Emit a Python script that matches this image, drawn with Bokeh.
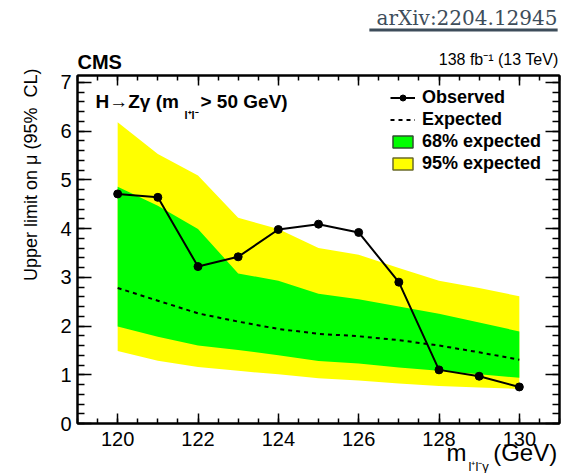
import math
from bokeh.plotting import figure
from bokeh.models import (Range1d, FixedTicker, LinearAxis, Label, Legend, LegendItem,
                          ColumnDataSource)
from bokeh.embed import file_html
from bokeh.resources import INLINE

# ---------------- data ----------------
mass = [120, 121, 122, 123, 124, 125, 126, 127, 128, 129, 130]
observed = [4.71, 4.64, 3.22, 3.42, 3.98, 4.09, 3.92, 2.90, 1.10, 0.97, 0.75]
expected = [2.78, 2.52, 2.26, 2.09, 1.94, 1.84, 1.79, 1.71, 1.60, 1.46, 1.31]
exp68_lo = [1.99, 1.78, 1.60, 1.51, 1.40, 1.28, 1.23, 1.15, 1.08, 1.01, 0.94]
exp68_hi = [4.86, 4.47, 3.99, 3.08, 2.93, 2.66, 2.55, 2.40, 2.25, 2.07, 1.89]
exp95_lo = [1.49, 1.29, 1.16, 1.08, 1.01, 0.93, 0.88, 0.82, 0.77, 0.74, 0.71]
exp95_hi = [6.18, 5.53, 5.09, 4.22, 3.99, 3.60, 3.46, 3.19, 2.93, 2.78, 2.61]

x_major = [120, 122, 124, 126, 128, 130]
y_major = [0, 1, 2, 3, 4, 5, 6, 7]

# ---------------- layout constants ----------------
W, H = 563, 473
FL, FR, FT, FB = 77, 559, 75, 423          # frame edges in pixels
XMIN, XMAX, YMIN, YMAX = 119.0, 131.0, 0.0, 7.14
NB = "\u00a0"

FONT = "Liberation Sans"

p = figure(width=W, height=H, output_backend="svg", toolbar_location=None,
           x_range=Range1d(XMIN, XMAX), y_range=Range1d(YMIN, YMAX),
           min_border_left=FL, min_border_right=W - FR, min_border_top=FT,
           min_border_bottom=H - FB)
p.grid.visible = False
p.outline_line_color = "black"
p.outline_line_width = 2
p.background_fill_color = "white"
p.border_fill_color = "white"

x_minor = [119 + 0.5 * i for i in range(25)]
y_minor = [round(0.2 * i, 2) for i in range(36)]


def style_axis(ax, maj_in, min_in, ticks, labels=True):
    ax.axis_line_color = "black"
    ax.axis_line_width = 2
    ax.major_tick_in = maj_in
    ax.major_tick_out = 0
    ax.minor_tick_in = min_in
    ax.minor_tick_out = 0
    ax.major_tick_line_color = "black"
    ax.major_tick_line_width = 1.5
    ax.minor_tick_line_color = "black"
    ax.minor_tick_line_width = 1.5
    if labels:
        ax.major_label_text_font = FONT
        ax.major_label_text_font_size = "20px"
        ax.major_label_text_color = "black"
    else:
        ax.major_label_overrides = {t: "" for t in ticks}
        ax.major_label_standoff = 0


xb = p.xaxis[0]
xb.ticker = FixedTicker(ticks=x_major, minor_ticks=x_minor)
style_axis(xb, 10, 5, x_major)
xb.major_label_standoff = 8

# x-axis title: "m" + gap (subscript drawn separately) + "(GeV)", pushed to the right end
x_title = "m" + NB * 4 + "(GeV)"
xb.axis_label = NB * 55 + x_title
xb.axis_label_text_font = FONT
xb.axis_label_text_font_size = "24px"
xb.axis_label_text_font_style = "normal"
xb.axis_label_text_color = "black"
xb.axis_label_standoff = -10

yl = p.yaxis[0]
yl.ticker = FixedTicker(ticks=y_major, minor_ticks=y_minor)
style_axis(yl, 14, 7, y_major)
yl.major_label_standoff = 6

xt = LinearAxis(ticker=FixedTicker(ticks=x_major, minor_ticks=x_minor))
style_axis(xt, 10, 5, x_major, labels=False)
p.add_layout(xt, "above")
yr = LinearAxis(ticker=FixedTicker(ticks=y_major, minor_ticks=y_minor))
style_axis(yr, 14, 7, y_major, labels=False)
p.add_layout(yr, "right")

# ---------------- bands and lines ----------------
src = ColumnDataSource(dict(m=mass, obs=observed, exp=expected,
                            lo68=exp68_lo, hi68=exp68_hi,
                            lo95=exp95_lo, hi95=exp95_hi))
YELLOW = "#ffff00"
GREEN = "#00ff00"
p.varea(x="m", y1="lo95", y2="hi95", source=src, fill_color=YELLOW)
p.varea(x="m", y1="lo68", y2="hi68", source=src, fill_color=GREEN)
r_exp = p.line(x="m", y="exp", source=src, line_color="black", line_width=2,
               line_dash="4 4")
r_obs_l = p.line(x="m", y="obs", source=src, line_color="black", line_width=2)
r_obs_m = p.scatter(x="m", y="obs", source=src, size=8, marker="circle",
                    fill_color="black", line_color="black")

# legend proxies (NaN data: nothing drawn in the plot) for boxes with outline
nan = float("nan")
proxy = ColumnDataSource(dict(l=[nan], r=[nan], b=[nan], t=[nan]))
r68 = p.quad(left="l", right="r", bottom="b", top="t", source=proxy,
             fill_color=GREEN, line_color="#2f4f2f", line_width=1.5)
r95 = p.quad(left="l", right="r", bottom="b", top="t", source=proxy,
             fill_color=YELLOW, line_color="#6b6b2a", line_width=1.5)

legend = Legend(items=[
    LegendItem(label="Observed", renderers=[r_obs_l, r_obs_m]),
    LegendItem(label="Expected", renderers=[r_exp]),
    LegendItem(label="68% expected", renderers=[r68]),
    LegendItem(label="95% expected", renderers=[r95]),
], location=(390 - FL, (FB - FT) - (86 - FT) - 4 * 22))
legend.glyph_width = 25
legend.glyph_height = 15
legend.label_standoff = 7
legend.padding = 0
legend.margin = 0
legend.spacing = 1
legend.label_height = 21
legend.label_text_font = FONT
legend.label_text_font_size = "18px"
legend.label_text_font_style = "bold"
legend.label_text_color = "black"
legend.border_line_color = None
legend.background_fill_alpha = 0
p.add_layout(legend)


# ---------------- texts (canvas positions, top-left origin) ----------------
def lab(text, px, base, size, align="left", baseline="alphabetic", style="normal",
        font=FONT, color="black", angle=0.0, place=None, **kw):
    # "base" is the wanted baseline; the renderer sets alphabetic text ~0.4 em low
    py = base - 0.4 * size if baseline == "alphabetic" else base
    label = Label(x=px, y=py, x_units="canvas", y_units="canvas",
                  text=text, text_font=font,
                  text_font_size=f"{size}px", text_font_style=style,
                  text_align=align, text_baseline=baseline,
                  text_color=color, angle=angle, **kw)
    if place is None:
        p.add_layout(label)
    else:
        p.add_layout(label, place)


# header (outside the frame: placed in side panels so it is not clipped)
lab("CMS", 77, 69, 20, style="bold", place="above")
lab("138 fb\u207b\u00b9 (13 TeV)", 558, 65, 16, align="right", place="above")
lab("arXiv:2204.12945", 557, 25, 20, align="right", font="DejaVu Serif",
    color="#3d4d5a", place="above")
# underline of the reference link: a thin filled label box
lab(NB, 463, 29.5, 1, align="center", baseline="middle", place="above",
    padding=(94, 94, 1, 1), background_fill_color="#3d4d5a",
    background_fill_alpha=1.0)

# process text
lab("H\u2192Z\u03b3 (m", 95, 108.5, 19, style="bold")
lab("l\u207al\u207b", 184, 119, 11, style="bold")
lab("> 50 GeV)", 200, 108.5, 19, style="bold")

# axis titles
lab("Upper limit on \u03bc (95%" + NB + " CL)", 30, 68, 18, align="right",
    baseline="middle", angle=math.pi / 2, place="left")
lab("l\u207al\u207b\u03b3", 468, 471, 13, place="left")

open("out.html", "w").write(file_html(p, INLINE))
